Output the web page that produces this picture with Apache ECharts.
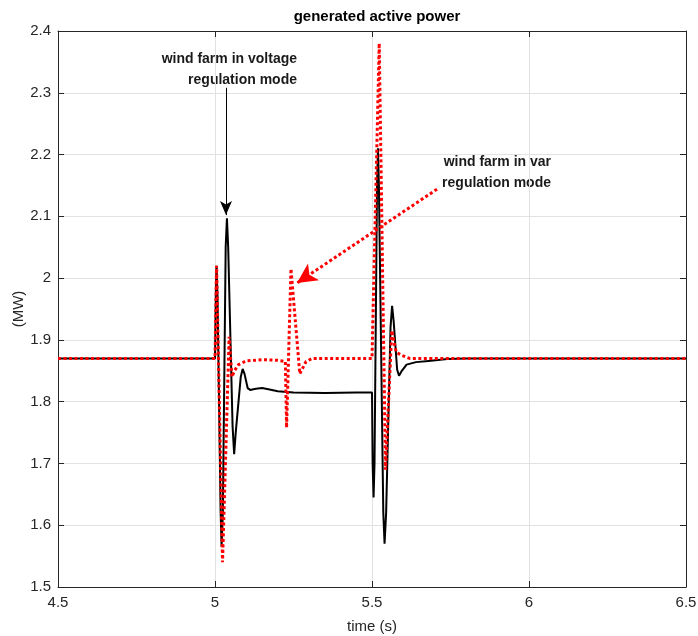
<!DOCTYPE html>
<html>
<head>
<meta charset="utf-8">
<script src="https://cdn.jsdelivr.net/npm/echarts@6/dist/echarts.min.js"></script>
<style>
  html, body { margin: 0; padding: 0; background: #fff; }
  #chart { width: 698px; height: 636px; }
</style>
</head>
<body>
<div id="chart"></div>
<script>
// time axis ticks
const xTicks = [4.5, 5, 5.5, 6, 6.5];
const yTicks = [1.5, 1.6, 1.7, 1.8, 1.9, 2, 2.1, 2.2, 2.3, 2.4];

// wind farm in voltage regulation mode (black)
const voltTime = [4.5, 5.0, 5.003, 5.005, 5.008, 5.018, 5.021, 5.025, 5.034, 5.038, 5.042,
  5.056, 5.061, 5.066, 5.082, 5.088, 5.094, 5.104, 5.112, 5.13, 5.15, 5.17, 5.2, 5.25, 5.35, 5.45,
  5.5, 5.502, 5.505, 5.508, 5.516, 5.519, 5.522, 5.536, 5.54, 5.545, 5.559, 5.564, 5.569,
  5.58, 5.586, 5.595, 5.61, 5.64, 5.68, 5.74, 5.8, 6.5];
const voltPower = [1.87, 1.87, 1.99, 2.02, 1.97, 1.62, 1.565, 1.62, 2.05, 2.097, 2.05,
  1.76, 1.715, 1.75, 1.84, 1.853, 1.845, 1.822, 1.819, 1.821, 1.822, 1.82, 1.817, 1.815, 1.814, 1.815,
  1.815, 1.70, 1.645, 1.70, 2.15, 2.21, 2.15, 1.62, 1.57, 1.62, 1.92, 1.955, 1.93,
  1.852, 1.842, 1.85, 1.86, 1.864, 1.866, 1.869, 1.87, 1.87];

// wind farm in var regulation mode (red dotted)
const varTime = [4.5, 5.0, 5.005, 5.024, 5.045, 5.054, 5.062, 5.075, 5.1, 5.15, 5.2, 5.224,
  5.228, 5.242, 5.27, 5.29, 5.31, 5.5, 5.5016, 5.523, 5.543, 5.563, 5.577, 5.595, 5.62, 6.5];
const varPower = [1.87, 1.87, 2.02, 1.54, 1.905, 1.84, 1.85, 1.86, 1.866, 1.868, 1.867, 1.865,
  1.758, 2.015, 1.845, 1.865, 1.87, 1.87, 1.87, 2.38, 1.69, 1.915, 1.88, 1.875, 1.87, 1.87];

// annotation arrows [t, MW]
const voltArrow = [[5.035, 2.308], [5.035, 2.102]];
const varArrow = [[5.707, 2.144], [5.261, 1.992]];

const labelFont = '"Liberation Sans Narrow", "Liberation Sans", Arial, sans-serif';
const boldFont = '"Liberation Sans", Arial, sans-serif';
const axisColor = '#262626';

let chart = echarts.init(document.getElementById('chart'), null, { renderer: 'canvas' });

let option = {
  animation: false,
  backgroundColor: '#ffffff',
  title: {
    text: 'generated active power',
    left: 372,
    top: 4,
    textAlign: 'center',
    textStyle: { fontFamily: boldFont, fontWeight: 'bold', fontSize: 15, color: '#000' }
  },
  grid: { left: 58, right: 12, top: 31, bottom: 49, containLabel: false, outerBoundsMode: 'none' },
  xAxis: [
    {
      type: 'value',
      min: 4.5, max: 6.5, interval: 0.5,
      name: 'time (s)',
      nameLocation: 'middle',
      nameGap: 32,
      nameMoveOverlap: false,
      nameTextStyle: { fontFamily: labelFont, fontSize: 15, color: axisColor },
      axisLine: { lineStyle: { color: axisColor, width: 1 } },
      axisTick: { inside: true, length: 6, lineStyle: { color: axisColor } },
      axisLabel: { fontFamily: labelFont, fontSize: 15, color: axisColor, margin: 8 },
      splitLine: { show: true, lineStyle: { color: '#e2e2e2', width: 1 } }
    },
    {
      type: 'value', position: 'top',
      min: 4.5, max: 6.5, interval: 0.5,
      axisLine: { lineStyle: { color: axisColor, width: 1 } },
      axisTick: { inside: true, length: 6, lineStyle: { color: axisColor } },
      axisLabel: { show: false },
      splitLine: { show: false }
    }
  ],
  yAxis: [
    {
      type: 'value',
      min: 1.5, max: 2.4, interval: 0.1,
      name: '(MW)',
      nameLocation: 'middle',
      nameGap: 32,
      nameRotate: 90,
      nameMoveOverlap: false,
      nameTextStyle: { fontFamily: labelFont, fontSize: 15, color: axisColor },
      axisLine: { show: true, lineStyle: { color: axisColor, width: 1 } },
      axisTick: { show: true, inside: true, length: 6, lineStyle: { color: axisColor } },
      axisLabel: {
        fontFamily: labelFont, fontSize: 15, color: axisColor, margin: 7,
        formatter: v => String(Math.round(v * 10) / 10)
      },
      splitLine: { show: true, lineStyle: { color: '#e2e2e2', width: 1 } }
    },
    {
      type: 'value', position: 'right',
      min: 1.5, max: 2.4, interval: 0.1,
      axisLine: { show: true, lineStyle: { color: axisColor, width: 1 } },
      axisTick: { show: true, inside: true, length: 6, lineStyle: { color: axisColor } },
      axisLabel: { show: false },
      splitLine: { show: false }
    }
  ],
  series: [
    {
      name: 'voltage regulation',
      type: 'line',
      showSymbol: false,
      symbol: 'none',
      lineStyle: { color: '#000000', width: 2 },
      data: voltTime.map((t, i) => [t, voltPower[i]]),
      markLine: {
        silent: true,
        symbol: ['none', 'arrow'],
        symbolSize: [9, 14],
        label: { show: false },
        lineStyle: { color: '#000000', width: 1, type: 'solid' },
        data: [[{ coord: voltArrow[0] }, { coord: voltArrow[1] }]]
      }
    },
    {
      name: 'var regulation',
      type: 'line',
      showSymbol: false,
      symbol: 'none',
      lineStyle: { color: '#ff0000', width: 3, type: [3, 2.5] },
      data: varTime.map((t, i) => [t, varPower[i]]),
      markLine: {
        silent: true,
        symbol: ['none', 'arrow'],
        symbolSize: [15, 20],
        label: { show: false },
        lineStyle: { color: '#ff0000', width: 3, type: [3, 2.5] },
        data: [[{ coord: varArrow[0] }, { coord: varArrow[1] }]]
      }
    }
  ],
  graphic: [
    {
      type: 'text', x: 297, y: 49,
      style: {
        text: 'wind farm in voltage\nregulation mode',
        align: 'right', verticalAlign: 'top', lineHeight: 21,
        font: 'bold 14px "Liberation Sans", Arial, sans-serif',
        fill: '#1a1a1a'
      }
    },
    {
      type: 'text', x: 551, y: 152,
      style: {
        text: 'wind farm in var\nregulation mode',
        align: 'right', verticalAlign: 'top', lineHeight: 21,
        font: 'bold 14px "Liberation Sans", Arial, sans-serif',
        fill: '#1a1a1a'
      }
    }
  ]
};
chart.setOption(option);
</script>
</body>
</html>
